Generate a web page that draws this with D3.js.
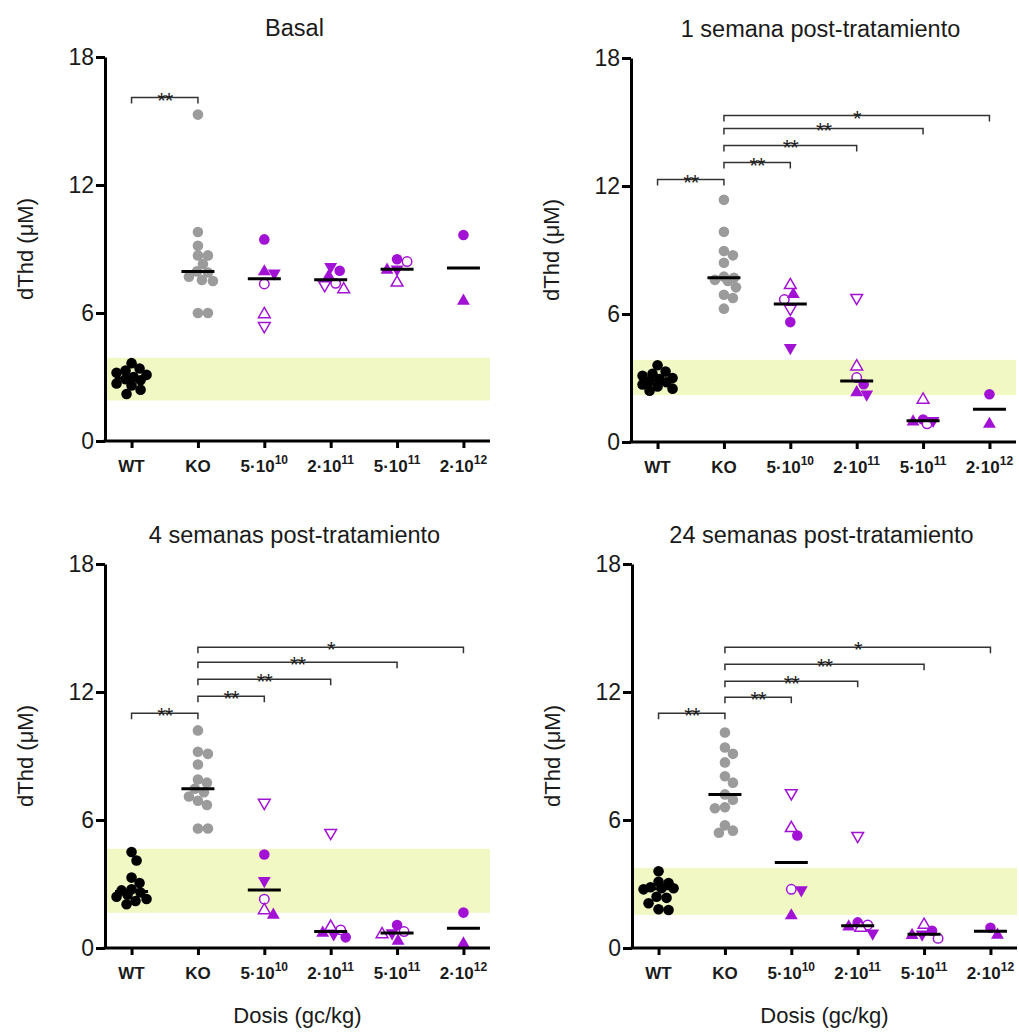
<!DOCTYPE html>
<html>
<head>
<meta charset="utf-8">
<script src="https://cdn.jsdelivr.net/npm/d3@7"></script>
<style>
    body { margin: 0; background: #fff; }
    svg { font-family: "Liberation Sans", Arial, Helvetica, sans-serif; }
    .axis path, .axis line { stroke: #000; stroke-width: 3; }
    .axis text { fill: #1a1a1a; }
    .bracket { fill: none; stroke: #333; stroke-width: 1.5; }
</style>
</head>
<body>
<svg class="graph"></svg>
<script>
// groups on the x axis
const categories = ["WT", "KO", "5e10", "2e11", "5e11", "2e12"];
const tickBase = ["WT", "KO", "5·10", "2·10", "5·10", "2·10"];
const tickExp = ["", "", "10", "11", "11", "12"];
const yTicks = [0, 6, 12, 18];
const panelTitles = ["Basal", "1 semana post-tratamiento", "4 semanas post-tratamiento", "24 semanas post-tratamiento"];

// symbol of every treated animal (filled/open circle, up triangle, down triangle)
const animalShapes = ["fc", "oc", "fu", "ou", "fd", "od"];

// Basal
const wtBasal = [3.65, 3.4, 3.3, 3.2, 3.1, 3.0, 2.9, 2.85, 2.7, 2.6, 2.4, 2.2];
const koBasal = [15.3, 9.8, 9.15, 8.7, 8.7, 8.3, 7.95, 7.9, 7.7, 7.55, 7.5, 6.0, 6.0];
const basal5e10 = [9.45, 7.36, 7.94, 5.94, 7.86, 5.39];
const basal2e11 = [7.98, 7.39, 7.73, 7.11, 8.17, 7.31];
const basal5e11 = [8.52, 8.41, 8.02, 7.42, 8.05, null];
const basal2e12 = [9.66, null, 6.56, null, null, null];
const normalBasal = [1.9, 3.9];
const sigBasal = [["WT", "KO", 16.1, "**"]];

// 1 semana
const wtSem1 = [3.6, 3.3, 3.2, 3.1, 3.0, 2.95, 2.85, 2.8, 2.7, 2.6, 2.5, 2.4];
const koSem1 = [11.35, 9.85, 8.95, 8.75, 8.4, 7.75, 7.7, 7.6, 7.55, 7.25, 6.9, 6.75, 6.25];
const sem1_5e10 = [5.62, 6.68, 6.92, 7.35, 4.42, 6.25];
const sem1_2e11 = [2.71, 3.02, 2.32, 3.54, 2.24, 6.76];
const sem1_5e11 = [1.05, 0.85, 0.95, 1.98, 1.0, null];
const sem1_2e12 = [2.24, null, 0.84, null, null, null];
const normalSem1 = [2.2, 3.85];
const sigSem1 = [["WT", "KO", 12.3, "**"], ["KO", "5e10", 13.1, "**"], ["KO", "2e11", 13.9, "**"],
    ["KO", "5e11", 14.7, "**"], ["KO", "2e12", 15.3, "*"]];

// 4 semanas
const wtSem4 = [4.5, 4.1, 3.3, 3.05, 2.75, 2.7, 2.6, 2.5, 2.4, 2.3, 2.2, 2.05];
const koSem4 = [10.2, 9.2, 9.1, 8.6, 7.9, 7.75, 7.47, 7.3, 7.1, 6.9, 6.7, 5.6, 5.6];
const sem4_5e10 = [4.38, 2.29, 1.55, 1.77, 3.15, 6.81];
const sem4_2e11 = [0.5, 0.85, 0.7, 0.99, 0.65, 5.4];
const sem4_5e11 = [1.08, 0.77, 0.33, 0.64, 0.7, null];
const sem4_2e12 = [1.66, null, 0.2, null, null, null];
const normalSem4 = [1.65, 4.65];
const sigSem4 = [["WT", "KO", 11.0, "**"], ["KO", "5e10", 11.8, "**"], ["KO", "2e11", 12.6, "**"],
    ["KO", "5e11", 13.4, "**"], ["KO", "2e12", 14.1, "*"]];

// 24 semanas
const wtSem24 = [3.6, 3.1, 3.05, 2.85, 2.8, 2.8, 2.75, 2.4, 2.35, 2.1, 1.82, 1.78];
const koSem24 = [10.1, 9.4, 9.1, 8.7, 8.05, 7.75, 7.2, 6.95, 6.6, 6.55, 5.75, 5.5, 5.4];
const sem24_5e10 = [5.27, 2.75, 1.52, 5.62, 2.72, 7.26];
const sem24_2e11 = [1.2, 1.08, 1.0, 0.95, 0.69, 5.26];
const sem24_5e11 = [0.81, 0.45, 0.6, 1.08, 0.64, null];
const sem24_2e12 = [0.95, null, 0.61, null, null, null];
const normalSem24 = [1.55, 3.75];
const sigSem24 = [["WT", "KO", 11.0, "**"], ["KO", "5e10", 11.75, "**"], ["KO", "2e11", 12.5, "**"],
    ["KO", "5e11", 13.3, "**"], ["KO", "2e12", 14.1, "*"]];

const colors = {WT: "#000", KO: "#9b9b9b", treated: "#a112d4"};

const size = {width: 1019, height: 1032};
const plot = {width: 385, height: 384};

const panels = [
    {title: panelTitles[0], wt: wtBasal, ko: koBasal, treated: [basal5e10, basal2e11, basal5e11, basal2e12],
        band: normalBasal, sig: sigBasal, left: 105, top: 57},
    {title: panelTitles[1], wt: wtSem1, ko: koSem1, treated: [sem1_5e10, sem1_2e11, sem1_5e11, sem1_2e12],
        band: normalSem1, sig: sigSem1, left: 631, top: 58},
    {title: panelTitles[2], wt: wtSem4, ko: koSem4, treated: [sem4_5e10, sem4_2e11, sem4_5e11, sem4_2e12],
        band: normalSem4, sig: sigSem4, left: 105, top: 564},
    {title: panelTitles[3], wt: wtSem24, ko: koSem24, treated: [sem24_5e10, sem24_2e11, sem24_5e11, sem24_2e12],
        band: normalSem24, sig: sigSem24, left: 632, top: 564}
];

const svg = d3.select(".graph")
    .attr("width", size.width)
    .attr("height", size.height);

const x = d3.scalePoint().domain(categories).range([0, plot.width]).padding(0.4);
const y = d3.scaleLinear().domain([0, 18]).range([plot.height, 0]);

const circle = d3.symbol().type(d3.symbolCircle);
const triangle = d3.symbol().type(d3.symbolTriangle);

// beeswarm kept inside a narrow column: closest free offset, else least overlap
function swarm(points) {
    const maxOff = 15, minDist = 9.5;
    const offsets = [0];
    for (let k = 1; k <= maxOff; k++) offsets.push(k, -k);
    const placed = [];
    points.slice().sort((a, b) => b.value - a.value).forEach(d => {
        const py = y(d.value);
        let best = 0, bestDist = -1;
        for (const dx of offsets) {
            const dist = d3.min(placed, q => Math.hypot(q.dx - dx, q.py - py));
            if (dist === undefined || dist >= minDist) { best = dx; bestDist = Infinity; break; }
            if (dist > bestDist + 0.5) { bestDist = dist; best = dx; }
        }
        placed.push({dx: best, py});
        d.dx = best;
    });
    return points;
}

function markerPath(shape) {
    const open = shape[0] === "o";
    if (shape[1] === "c") return circle.size(open ? 70 : 88)();
    return triangle.size(open ? 60 : 72)();
}

panels.forEach(p => {
    const g = svg.append("g").attr("transform", `translate(${p.left},${p.top})`);

    // normal range band
    g.append("rect")
        .attr("x", 0)
        .attr("width", plot.width)
        .attr("y", y(p.band[1]))
        .attr("height", y(p.band[0]) - y(p.band[1]))
        .attr("fill", "#f2f8c4");

    // significance brackets
    p.sig.forEach(([a, b, v, label]) => {
        const yy = y(v);
        g.append("path")
            .attr("class", "bracket")
            .attr("d", `M${x(a)},${yy + 6}V${yy}H${x(b)}V${yy + 6}`);
        g.append("text")
            .attr("x", (x(a) + x(b)) / 2)
            .attr("y", yy + 10)
            .attr("text-anchor", "middle")
            .attr("font-size", 22)
            .attr("fill", "#222")
            .attr("letter-spacing", -1)
            .text(label);
    });

    // groups
    const groups = [
        {cat: "WT", points: p.wt.map(v => ({value: v, shape: "fc", color: colors.WT}))},
        {cat: "KO", points: p.ko.map(v => ({value: v, shape: "fc", color: colors.KO}))}
    ];
    p.treated.forEach((vals, i) => {
        groups.push({
            cat: categories[i + 2],
            points: vals.map((v, j) => ({value: v, shape: animalShapes[j], color: colors.treated}))
                .filter(d => d.value !== null)
        });
    });

    groups.forEach(grp => {
        const cx = x(grp.cat);
        swarm(grp.points);

        g.append("g").selectAll("path")
            .data(grp.points)
            .enter().append("path")
            .attr("transform", d => `translate(${cx + d.dx},${y(d.value)})` + (d.shape[1] === "d" ? " rotate(180)" : ""))
            .attr("d", d => markerPath(d.shape))
            .attr("fill", d => d.shape[0] === "o" ? "#fff" : d.color)
            .attr("stroke", d => d.shape[0] === "o" ? d.color : "none")
            .attr("stroke-width", 1.5);

        const med = d3.median(grp.points, d => d.value);
        g.append("line")
            .attr("x1", cx - 16.5)
            .attr("x2", cx + 16.5)
            .attr("y1", y(med))
            .attr("y2", y(med))
            .attr("stroke", "#000")
            .attr("stroke-width", 3);
    });

    // axes
    const yAxis = g.append("g")
        .attr("class", "axis")
        .call(d3.axisLeft(y).tickValues(yTicks).tickSize(9).tickSizeOuter(0).tickPadding(2));
    yAxis.selectAll("text")
        .attr("font-size", 23)
        .attr("font-family", "Liberation Sans, Arial, sans-serif");

    const xAxis = g.append("g")
        .attr("class", "axis")
        .attr("transform", `translate(0,${plot.height})`)
        .call(d3.axisBottom(x).tickSize(7).tickSizeOuter(0).tickFormat(""));
    xAxis.select(".domain").attr("d", `M-1.5,0H${plot.width}`);

    const labels = g.append("g").selectAll("text")
        .data(categories)
        .enter().append("text")
        .attr("x", d => x(d))
        .attr("y", plot.height + 31)
        .attr("text-anchor", "middle")
        .attr("font-size", 17)
        .attr("font-weight", "bold")
        .attr("fill", "#1a1a1a");
    labels.append("tspan").text((d, i) => tickBase[i]);
    labels.append("tspan")
        .attr("font-size", 12)
        .attr("dy", -8)
        .text((d, i) => tickExp[i]);

    // title
    g.append("text")
        .attr("x", plot.width / 2 - 3)
        .attr("y", -21)
        .attr("text-anchor", "middle")
        .attr("font-size", 23.5)
        .attr("fill", "#1a1a1a")
        .text(p.title);

    // y label
    g.append("text")
        .attr("transform", `translate(-72,${plot.height / 2}) rotate(-90)`)
        .attr("text-anchor", "middle")
        .attr("font-size", 22)
        .attr("fill", "#1a1a1a")
        .text("dThd (μM)");
});

// x titles below the bottom row
[panels[2], panels[3]].forEach(p => {
    svg.append("text")
        .attr("x", p.left + plot.width / 2)
        .attr("y", 1023)
        .attr("text-anchor", "middle")
        .attr("font-size", 22)
        .attr("fill", "#1a1a1a")
        .text("Dosis (gc/kg)");
});
</script>
</body>
</html>
